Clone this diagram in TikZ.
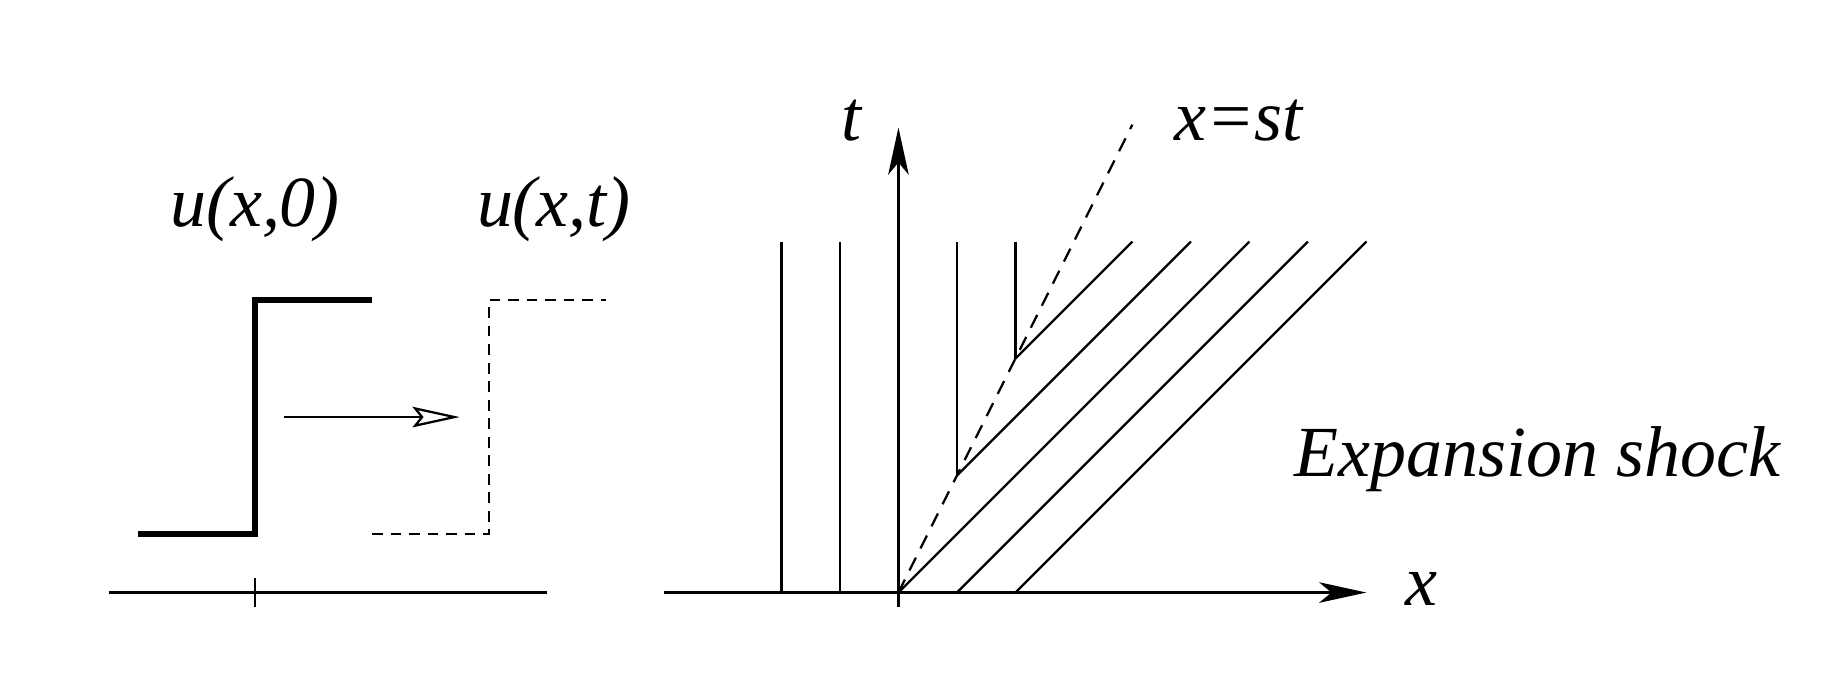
\documentclass[tikz,border=0pt]{standalone}
\usepackage{fontspec}
\setmainfont{Liberation Serif}
\usetikzlibrary{arrows.meta}

\begin{document}
\begin{tikzpicture}[x=0.5cm,y=0.5cm,
  lbl/.style={inner sep=0pt,font=\fontsize{17.5}{21}\selectfont\itshape},
  thinline/.style={line width=0.55pt},
  axisarrow/.style={-{Stealth[length=11.5pt,width=5pt,inset=3pt]}}]
\useasboundingbox (-15.36,-1.57) rectangle (15.96,10.13);

% step at t=0 and moved step
\draw[thinline] (-13.5,0) -- (-6,0);
\draw[thinline] (-11,-0.25) -- (-11,0.25);
\draw[line width=1.5pt] (-13,1) -- (-11,1) -- (-11,5) -- (-9,5);
\draw[thinline,dash pattern=on 2.6pt off 1.9pt] (-9,1) -- (-7,1) -- (-7,5) -- (-5,5);
\draw[thinline,-{Stealth[open,length=11.5pt,width=5pt,inset=2pt]}] (-10.5,3) -- (-7.5,3);
\node[lbl,anchor=base] (u0) at (-11,6.25) {u(x,0)};
\node[lbl,anchor=base] (ut) at (-5.89,6.25) {u(x,t)};

% x-t plane
\coordinate (O) at (0,0);
\draw[thinline,axisarrow] (-4,0) -- (8,0);
\draw[thinline,axisarrow] (0,-0.25) -- (0,7.95);
\node[lbl,anchor=base] (tlbl) at (-0.81,7.72) {t};
\node[lbl,anchor=base] (xlbl) at (8.95,-0.23) {x};

% characteristics
\foreach \a in {-2,-1} \draw[thinline] (\a,0) -- (\a,6);
\draw[thinline] (1,2) -- (1,6);
\draw[thinline] (2,4) -- (2,6);
\foreach \a in {0,1,2} \draw[thinline] (\a,0) -- (\a+6,6);
\draw[thinline] (1,2) -- (5,6);
\draw[thinline] (2,4) -- (4,6);

% shock
\draw[thinline,dash pattern=on 3.5pt off 2.5pt] (O) -- (4,8);
\node[lbl,anchor=base west] (shocklbl) at (4.70,7.72) {x=st};
\node[lbl,anchor=base west] (namelbl) at (6.76,1.98) {Expansion shock};
\end{tikzpicture}
\end{document}
